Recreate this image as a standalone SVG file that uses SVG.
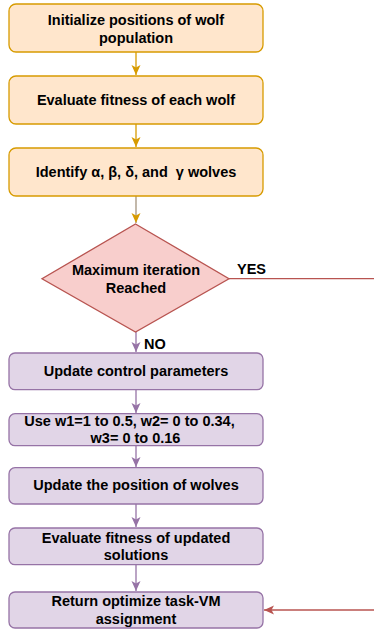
<svg xmlns="http://www.w3.org/2000/svg" width="374" height="631" viewBox="0 0 374 631">
<defs>
<style>
text{font-family:"Liberation Sans",Arial,sans-serif;font-weight:bold;font-size:14.5px;fill:#000;text-anchor:middle}
.o{fill:#ffe6cc;stroke:#d79b00;stroke-width:1.3}
.p{fill:#e1d5e7;stroke:#9673a6;stroke-width:1.3}
.r{fill:#f8cecc;stroke:#b85450;stroke-width:1.3}
.c{fill:none;stroke-width:1.3}
.lab{text-anchor:start}
</style>
<marker id="ao" viewBox="-10 -5 10 10" refX="0" refY="0" markerWidth="10" markerHeight="10" markerUnits="userSpaceOnUse" orient="auto"><path d="M0,0 L-10,-4.5 L-7.5,0 L-10,4.5 Z" fill="#d79b00"/></marker>
<marker id="ap" viewBox="-10 -5 10 10" refX="0" refY="0" markerWidth="10" markerHeight="10" markerUnits="userSpaceOnUse" orient="auto"><path d="M0,0 L-10,-4.5 L-7.5,0 L-10,4.5 Z" fill="#9673a6"/></marker>
<marker id="ar" viewBox="-10 -5 10 10" refX="0" refY="0" markerWidth="10" markerHeight="10" markerUnits="userSpaceOnUse" orient="auto"><path d="M0,0 L-10,-4.5 L-7.5,0 L-10,4.5 Z" fill="#b85450"/></marker>
</defs>
<g id="connectors">
<path class="c" stroke="#d79b00" d="M136,52 V75" marker-end="url(#ao)"/>
<path class="c" stroke="#d79b00" d="M136,124 V147" marker-end="url(#ao)"/>
<path class="c" stroke="#a3937d" d="M136,196 V223" marker-end="url(#ao)"/>
<path class="c" stroke="#9673a6" d="M136,332 V352" marker-end="url(#ap)"/>
<path class="c" stroke="#9673a6" d="M136,390 V413" marker-end="url(#ap)"/>
<path class="c" stroke="#9673a6" d="M136,446 V467" marker-end="url(#ap)"/>
<path class="c" stroke="#9673a6" d="M136,504 V527" marker-end="url(#ap)"/>
<path class="c" stroke="#9673a6" d="M136,565 V591" marker-end="url(#ap)"/>
<path class="c" stroke="#b85450" d="M229,278.7 H374"/>
<path class="c" stroke="#b85450" d="M374,610 H264" marker-end="url(#ar)"/>
<text class="lab" x="237" y="273.5">YES</text>
<text class="lab" x="144" y="348.5">NO</text>
</g>
<g id="n1"><rect class="o" x="9" y="4" width="254" height="48" rx="7"/><text x="136" y="25">Initialize positions of wolf</text><text x="136" y="42.5">population</text></g>
<g id="n2"><rect class="o" x="9" y="76" width="254" height="48" rx="7"/><text x="136" y="104.5">Evaluate fitness of each wolf</text></g>
<g id="n3"><rect class="o" x="9" y="148" width="254" height="48" rx="7"/><text x="136" y="176.7">Identify α, β, δ, and &#160;γ wolves</text></g>
<g id="n4"><path class="r" d="M135.5,224 L229,278.7 L135.5,332 L42,278.7 Z"/><text x="136" y="275.3">Maximum iteration</text><text x="136" y="292.8">Reached</text></g>
<g id="n5"><rect class="p" x="9" y="353" width="254" height="36.7" rx="6"/><text x="136" y="376.3">Update control parameters</text></g>
<g id="n6"><rect class="p" x="9" y="413.7" width="254" height="32" rx="6"/><text x="129.5" y="425.5">Use w1=1 to 0.5, w2= 0 to 0.34,</text><text x="135.5" y="443">w3= 0 to 0.16</text></g>
<g id="n7"><rect class="p" x="9" y="467.7" width="254" height="36.3" rx="6"/><text x="136" y="490.3">Update the position of wolves</text></g>
<g id="n8"><rect class="p" x="9" y="528" width="254" height="36.7" rx="6"/><text x="136" y="542.5">Evaluate fitness of updated</text><text x="136" y="560">solutions</text></g>
<g id="n9"><rect class="p" x="9" y="592" width="254" height="36" rx="6"/><text x="136" y="606">Return optimize task-VM</text><text x="136" y="624">assignment</text></g>
</svg>
